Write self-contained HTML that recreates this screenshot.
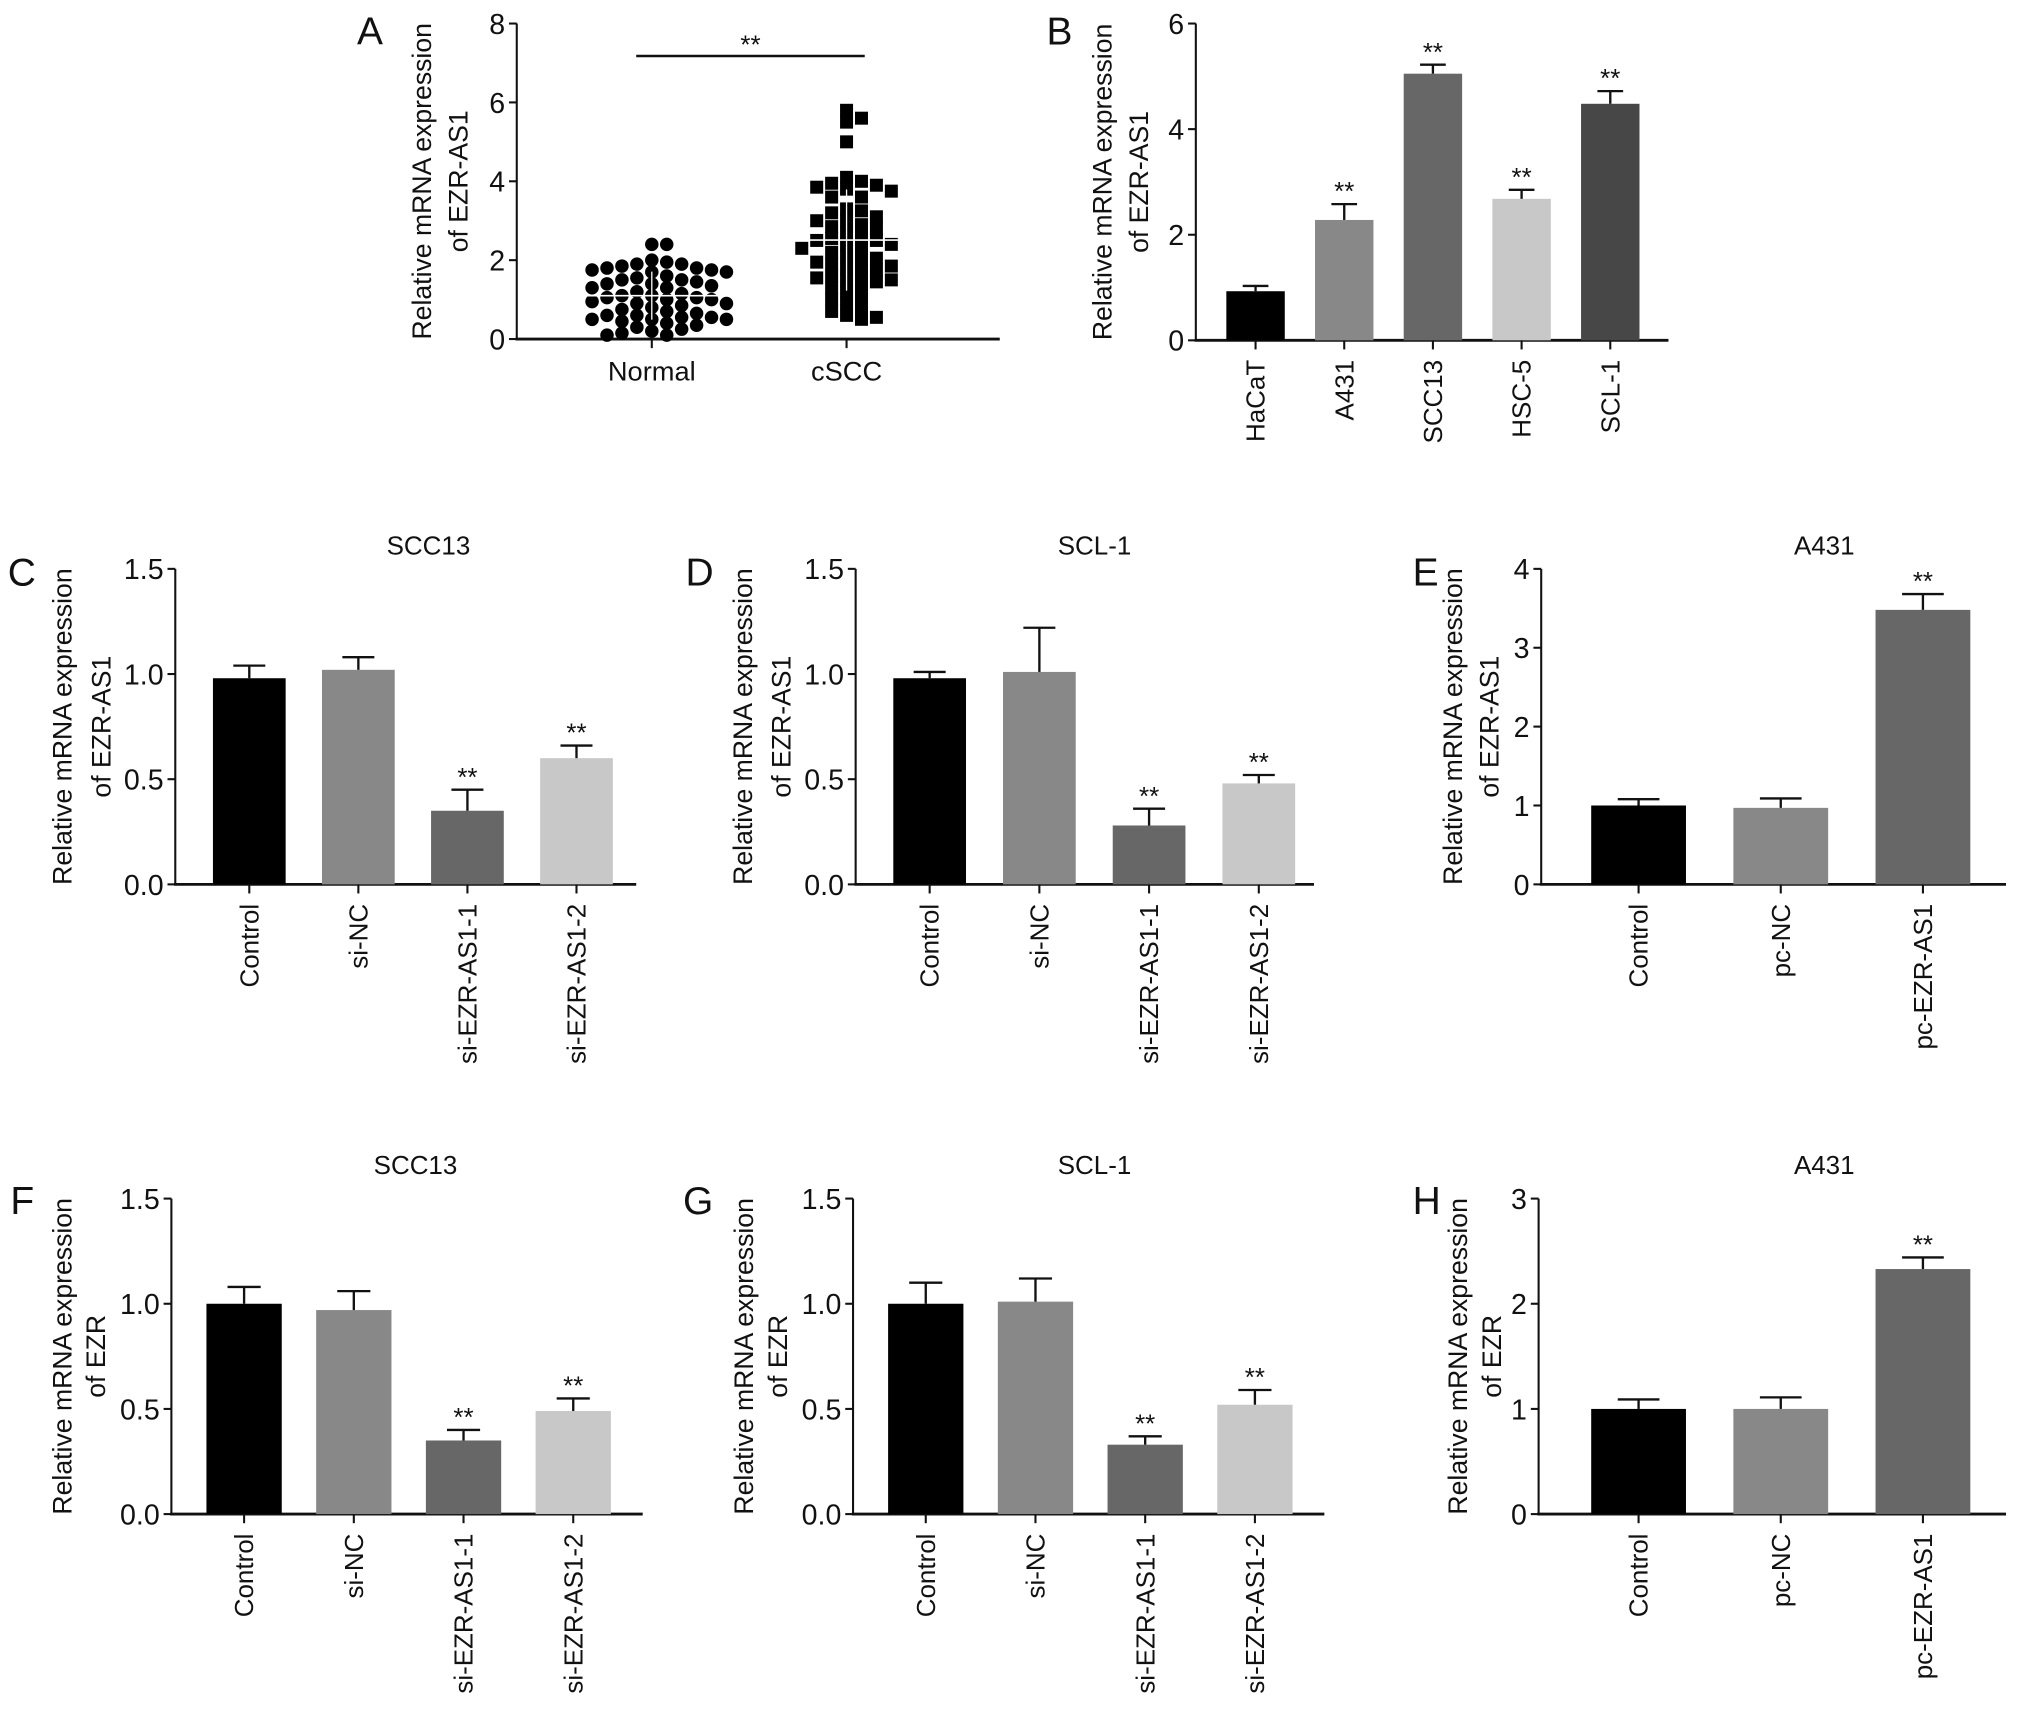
<!DOCTYPE html>
<html><head><meta charset="utf-8"><style>
html,body{margin:0;padding:0;background:#fff}
svg{display:block}
text{font-family:"Liberation Sans",Arial,sans-serif;fill:#111}
</style></head><body>
<svg id="fig" width="2032" height="1722" viewBox="0 0 1565 1326" xmlns="http://www.w3.org/2000/svg"></svg>
<script>
// Panel A data
const normalValues=[2.4,2.4,2.0,1.95,1.9,1.9,1.85,1.8,1.8,1.75,1.75,1.7,1.7,1.6,1.55,1.5,1.5,1.45,1.4,1.4,1.35,1.3,1.3,1.2,1.15,1.1,1.1,1.05,1.05,1.0,1.0,0.95,0.9,0.9,0.85,0.8,0.75,0.7,0.65,0.6,0.6,0.55,0.55,0.5,0.5,0.5,0.45,0.4,0.35,0.3,0.25,0.2,0.15,0.1,0.1];
const csccValues=[5.8,5.6,5.5,5.0,4.1,4.0,3.95,3.9,3.85,3.8,3.75,3.6,3.6,3.3,3.25,3.2,3.1,3.0,3.0,2.9,2.85,2.8,2.7,2.6,2.55,2.5,2.5,2.4,2.4,2.3,2.3,2.2,2.1,2.05,2.0,1.95,1.9,1.85,1.8,1.75,1.7,1.6,1.55,1.5,1.5,1.45,1.4,1.3,1.2,1.1,1.0,0.9,0.8,0.7,0.6,0.55,0.5];
const aCategories=["Normal","cSCC"];
const aTicks=[0,2,4,6,8];
// Panel B data
const bCategories=["HaCaT","A431","SCC13","HSC-5","SCL-1"];
const bValues=[0.93,2.28,5.05,2.68,4.48];
const bErrors=[1.03,2.58,5.22,2.85,4.72];
const bTicks=[0,2,4,6];
// Panels C-H data
const siCategories=["Control","si-NC","si-EZR-AS1-1","si-EZR-AS1-2"];
const pcCategories=["Control","pc-NC","pc-EZR-AS1"];
const cValues=[0.98,1.02,0.35,0.60], cErrors=[1.04,1.08,0.45,0.66];
const dValues=[0.98,1.01,0.28,0.48], dErrors=[1.01,1.22,0.36,0.52];
const eValues=[1.0,0.97,3.48], eErrors=[1.08,1.09,3.68];
const fValues=[1.0,0.97,0.35,0.49], fErrors=[1.08,1.06,0.40,0.55];
const gValues=[1.0,1.01,0.33,0.52], gErrors=[1.10,1.12,0.37,0.59];
const hValues=[1.0,1.0,2.33], hErrors=[1.09,1.11,2.44];
const siTicks=[0.0,0.5,1.0,1.5], eTicks=[0,1,2,3,4], hTicks=[0,1,2,3];
const siSig=[false,false,true,true], pcSig=[false,false,true], bSig=[false,true,true,true,true];

const NS="http://www.w3.org/2000/svg";
const svg=document.getElementById('fig');
function mk(tag,attrs,parent,txt){const e=document.createElementNS(NS,tag);for(const k in attrs)e.setAttribute(k,attrs[k]);if(txt!==undefined)e.textContent=txt;(parent||svg).appendChild(e);return e;}

function yScale(y0,yTop,max){return v=>y0-(v/max)*(y0-yTop);}

function axes(g,ax,y0,yTop,xEnd,ticks,max,fmt,titleLines,titleX){
  const ys=yScale(y0,yTop,max);
  const yl=mk('line',{x1:ax,y1:yTop,x2:ax,y2:y0,stroke:'#111','stroke-width':1.6},g);
  
  
  const xl=mk('line',{x1:ax-1,y1:y0,x2:xEnd,y2:y0,stroke:'#111','stroke-width':2.2},g);
  
  
  ticks.forEach(t=>{
    mk('line',{x1:ax-6,y1:ys(t),x2:ax,y2:ys(t),stroke:'#111','stroke-width':1.6},g);
    const tl=mk('text',{x:ax-9,y:ys(t)+8,'text-anchor':'end','font-size':22},g,fmt(t));
    
    
  });
  const cy=(y0+yTop)/2;
  titleLines.forEach((s,i)=>{
    const tt=mk('text',{x:titleX[i],y:cy,'text-anchor':'middle','font-size':20.5,transform:`rotate(-90 ${titleX[i]} ${cy})`},g,s);
    
    
  });
  return ys;
}

function letter(g,s,x,y){const t=mk('text',{x:x,y:y,'font-size':30},g,s);}

function barPanel(o){
  const g=mk('g',{},svg);
  
  
  letter(g,o.letter,o.lx,o.ly);
  if(o.title){const t=mk('text',{x:o.tx,y:o.ty,'text-anchor':'middle','font-size':20},g,o.title);}
  const ys=axes(g,o.ax,o.y0,o.yTop,o.xEnd,o.ticks,o.max,o.fmt,o.yTitle,o.titleX);
  o.cats.forEach((c,i)=>{
    const cx=o.c0+i*o.step;
    const v=o.vals[i], e=o.errs[i];
    const r=mk('rect',{x:cx-o.bw/2,y:ys(v),width:o.bw,height:o.y0-ys(v),fill:o.colors[i]},g);
    
    
    mk('line',{x1:cx,y1:ys(v),x2:cx,y2:ys(e),stroke:'#111','stroke-width':1.8},g);
    const cap=mk('line',{x1:cx-o.bw*0.22,y1:ys(e),x2:cx+o.bw*0.22,y2:ys(e),stroke:'#111','stroke-width':1.8},g);
    
    
    if(o.sig[i]){const s=mk('text',{x:cx,y:ys(e)-3,'text-anchor':'middle','font-size':20},g,'**');}
    mk('line',{x1:cx,y1:o.y0,x2:cx,y2:o.y0+7,stroke:'#111','stroke-width':1.6},g);
    const lbl=mk('text',{x:cx+7,y:o.y0+15,'text-anchor':'end','font-size':20,transform:`rotate(-90 ${cx+7} ${o.y0+15})`},g,c);
    
    
  });
}

// Panel A
(function(){
  const g=mk('g',{},svg);
  
  
  letter(g,'A',275,34);
  const ax=398,y0=261,yTop=18;
  const ys=axes(g,ax,y0,yTop,770,aTicks,8,t=>String(t),["Relative mRNA expression","of EZR-AS1"],[332,360]);
  const centers=[502,652];
  const data=[normalValues,csccValues];
  aCategories.forEach((c,k)=>{
    const cx=centers[k];
    mk('line',{x1:cx,y1:y0,x2:cx,y2:y0+7,stroke:'#111','stroke-width':1.6},g);
    const t=mk('text',{x:cx,y:y0+32,'text-anchor':'middle','font-size':21},g,c);
    
    
    const placed=[]; const dx=11.5, dy=9;
    data[k].forEach(v=>{
      const y=ys(v); let x=cx;
      for(let j=0;j<40;j++){
        const off=(j===0?0:Math.ceil(j/2)*dx*(j%2?1:-1));
        const tx=cx+off;
        if(!placed.some(p=>Math.abs(p[0]-tx)<dx-0.5&&Math.abs(p[1]-y)<dy)){x=tx;break;}
      }
      placed.push([x,y]);
      let m;
      if(k===0){m=mk('circle',{cx:x,cy:y,r:5.2,fill:'#000'},g);}
      else{m=mk('rect',{x:x-5,y:y-5,width:10,height:10,fill:'#000'},g);}
      
      
    });
    const arr=data[k]; const mean=arr.reduce((a,b)=>a+b,0)/arr.length;
    const sd=Math.sqrt(arr.reduce((a,b)=>a+(b-mean)*(b-mean),0)/(arr.length-1));
    const ml=mk('line',{x1:cx-62,y1:ys(mean),x2:cx+62,y2:ys(mean),stroke:'#fff','stroke-width':1.2},g);
    
    
    mk('line',{x1:cx,y1:ys(mean-sd),x2:cx,y2:ys(mean+sd),stroke:'#fff','stroke-width':1},g);
  });
  const sl=mk('line',{x1:490,y1:43,x2:666,y2:43,stroke:'#111','stroke-width':2},g);
  
  
  const st=mk('text',{x:578,y:41,'text-anchor':'middle','font-size':20},g,'**');
  
  
})();

const siColors=['#000','#888','#676767','#c8c8c8'];
const pcColors=['#000','#888','#676767'];
const f1=t=>t.toFixed(1), f0=t=>String(t);

barPanel({name:'panel-b-bar',letter:'B',lx:806,ly:34,ax:921,y0:262,yTop:18,xEnd:1285,ticks:bTicks,max:6,fmt:f0,yTitle:["Relative mRNA expression","of EZR-AS1"],titleX:[856,884],cats:bCategories,vals:bValues,errs:bErrors,c0:967,step:68.3,bw:45,colors:['#000','#888','#676767','#c8c8c8','#474747'],sig:bSig});

const ezas=["Relative mRNA expression","of EZR-AS1"], ezr=["Relative mRNA expression","of EZR"];
barPanel({name:'panel-c-bar',letter:'C',lx:6,ly:451,title:'SCC13',tx:330,ty:427,ax:135,y0:681,yTop:438,xEnd:490,ticks:siTicks,max:1.5,fmt:f1,yTitle:ezas,titleX:[55,85],cats:siCategories,vals:cValues,errs:cErrors,c0:192,step:84,bw:56,colors:siColors,sig:siSig});
barPanel({name:'panel-d-bar',letter:'D',lx:528,ly:451,title:'SCL-1',tx:843,ty:427,ax:659,y0:681,yTop:438,xEnd:1012,ticks:siTicks,max:1.5,fmt:f1,yTitle:ezas,titleX:[579,609],cats:siCategories,vals:dValues,errs:dErrors,c0:716,step:84.5,bw:56,colors:siColors,sig:siSig});
barPanel({name:'panel-e-bar',letter:'E',lx:1088,ly:451,title:'A431',tx:1405,ty:427,ax:1187,y0:681,yTop:438,xEnd:1545,ticks:eTicks,max:4,fmt:f0,yTitle:ezas,titleX:[1126,1154],cats:pcCategories,vals:eValues,errs:eErrors,c0:1262,step:109.5,bw:73,colors:pcColors,sig:pcSig});
barPanel({name:'panel-f-bar',letter:'F',lx:8,ly:935,title:'SCC13',tx:320,ty:904,ax:132,y0:1166,yTop:923,xEnd:495,ticks:siTicks,max:1.5,fmt:f1,yTitle:ezr,titleX:[55,81],cats:siCategories,vals:fValues,errs:fErrors,c0:188,step:84.5,bw:58,colors:siColors,sig:siSig});
barPanel({name:'panel-g-bar',letter:'G',lx:526,ly:935,title:'SCL-1',tx:843,ty:904,ax:657,y0:1166,yTop:923,xEnd:1020,ticks:siTicks,max:1.5,fmt:f1,yTitle:ezr,titleX:[580,606],cats:siCategories,vals:gValues,errs:gErrors,c0:713,step:84.5,bw:58,colors:siColors,sig:siSig});
barPanel({name:'panel-h-bar',letter:'H',lx:1088,ly:935,title:'A431',tx:1405,ty:904,ax:1185,y0:1166,yTop:923,xEnd:1545,ticks:hTicks,max:3,fmt:f0,yTitle:ezr,titleX:[1130,1156],cats:pcCategories,vals:hValues,errs:hErrors,c0:1262,step:109.5,bw:73,colors:pcColors,sig:pcSig});
</script>
</body></html>
